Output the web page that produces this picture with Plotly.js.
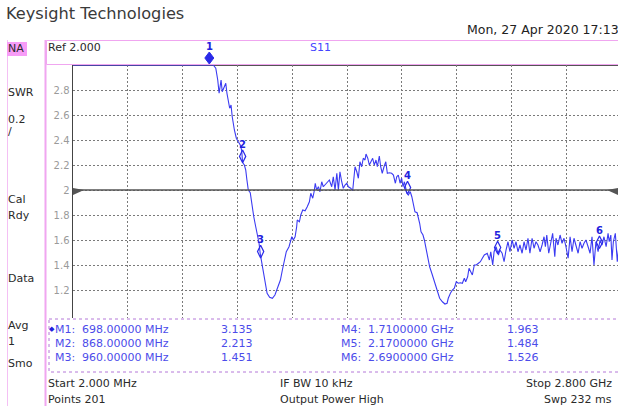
<!DOCTYPE html>
<html><head><meta charset="utf-8">
<script src="https://cdn.plot.ly/plotly-3.0.1.min.js"></script>
<style>html,body{margin:0;padding:0;overflow:hidden;background:#fff;width:618px;height:408px}#chart{width:624px;height:408px}</style>
</head><body><div id="chart"></div>
<script>
// ---- data (read from the screen capture) ----
// values above the top of the display (SWR > 3) are shown clamped at 3.0
const freqMHz = [
  2,150,300,450,600,698,718,731,741,748,
  758,764,775,782,788,795,802,809,815,826,
  836,846,856,863,868,877,884,890,897,907,
  914,925,935,945,952,958,966,974,982,993,
  1006,1020,1033,1047,1061,1071,1081,1091,1105,1119,
  1127,1136,1144,1147,1158,1165,1175,1187,1198,1209,
  1216,1226,1233,1239,1246,1255,1263,1272,1280,1289,
  1301,1311,1323,1331,1340,1349,1357,1365,1374,1382,
  1391,1400,1408,1420,1430,1437,1442,1451,1459,1467,
  1476,1484,1493,1498,1507,1515,1524,1532,1540,1549,
  1556,1566,1573,1581,1590,1599,1607,1617,1629,1638,
  1648,1655,1663,1672,1680,1687,1694,1701,1707,1714,
  1724,1732,1740,1748,1759,1765,1772,1779,1789,1796,
  1803,1810,1816,1823,1834,1844,1854,1864,1874,1888,
  1901,1912,1918,1929,1939,1949,1959,1969,1980,1990,
  2000,2007,2017,2024,2034,2041,2051,2061,2072,2082,
  2092,2102,2117,2128,2135,2145,2152,2162,2174,2182,
  2193,2203,2213,2223,2233,2244,2254,2264,2274,2284,
  2295,2305,2315,2325,2335,2346,2356,2366,2376,2387,
  2397,2407,2414,2421,2431,2441,2451,2462,2468,2478,
  2489,2499,2509,2519,2530,2540,2550,2560,2570,2581,
  2591,2601,2611,2621,2632,2642,2652,2662,2672,2683,
  2693,2703,2713,2724,2734,2740,2748,2754,2761,2771,
  2781,2792,2800];
const swr = [
  3,3,3,3,3,3,3,2.974,2.88,2.774,
  2.88,2.786,2.826,2.854,2.774,2.694,2.654,2.68,2.586,2.48,
  2.414,2.386,2.36,2.32,2.22,2.2,2.16,2.08,2.0,1.978,
  1.894,1.786,1.706,1.626,1.574,1.49,1.414,1.334,1.254,1.174,
  1.142,1.134,1.16,1.214,1.28,1.36,1.44,1.506,1.546,1.626,
  1.6,1.626,1.706,1.76,1.746,1.8,1.84,1.834,1.866,1.906,
  1.974,1.934,1.986,2.054,2.0,2.026,1.986,2.066,2.026,2.04,
  2.066,2.08,2.026,2.106,2.0,2.134,2.0,2.146,2.066,2.014,
  2.04,2.054,2.026,2.014,1.994,2.106,2.186,2.146,2.094,2.226,
  2.186,2.254,2.24,2.288,2.254,2.2,2.226,2.254,2.2,2.24,
  2.186,2.272,2.186,2.134,2.186,2.226,2.134,2.138,2.134,2.12,
  2.054,2.106,2.12,2.054,2.094,2.026,2.066,2.0,1.974,1.96,
  1.986,1.946,1.894,1.826,1.818,1.786,1.734,1.666,1.64,1.6,
  1.546,1.494,1.44,1.386,1.334,1.28,1.24,1.186,1.134,1.106,
  1.088,1.094,1.134,1.174,1.2,1.214,1.266,1.254,1.258,1.254,
  1.294,1.266,1.306,1.374,1.334,1.32,1.4,1.4,1.414,1.426,
  1.454,1.48,1.494,1.44,1.506,1.4,1.506,1.546,1.48,1.52,
  1.494,1.426,1.52,1.586,1.506,1.6,1.534,1.586,1.506,1.56,
  1.494,1.586,1.52,1.614,1.494,1.614,1.534,1.586,1.56,1.506,
  1.56,1.626,1.546,1.64,1.494,1.586,1.654,1.466,1.614,1.56,
  1.64,1.574,1.614,1.546,1.454,1.626,1.506,1.614,1.56,1.494,
  1.586,1.534,1.574,1.6,1.546,1.494,1.626,1.4,1.586,1.506,
  1.6,1.56,1.626,1.546,1.654,1.586,1.64,1.44,1.586,1.654,
  1.426,1.6,1.55];
const markerNames = ['M1','M2','M3','M4','M5','M6'];
const markerFreqMHz = [698, 868, 960, 1710, 2170, 2690];
const markerSWR = [3.135, 2.213, 1.451, 1.963, 1.484, 1.526];
const activeMarker = 0;
const yTickVals = [1.2,1.4,1.6,1.8,2.0,2.2,2.4,2.6,2.8];
const yTickText = ['1.2','1.4','1.6','1.8','2','2.2','2.4','2.6','2.8'];
const leftLabels = ['NA','SWR','0.2','/','Cal','Rdy','Data','Avg','1','Smo'];
const startMHz = 2, stopMHz = 2800, refLevel = 2.0, perDiv = 0.2, nPoints = 201;
const traceName = 'S11';
const vendor = 'Keysight Technologies';
const stamp = 'Mon, 27 Apr 2020 17:13';
const footer = ['IF BW 10 kHz', 'Output Power High', 'Swp 232 ms'];

// ---- geometry ----
const W = 624, H = 408;
const L = 73, R = 621, T = 65, B = 318;
const pw = R - L, ph = B - T;
const yTop = refLevel + 5 * perDiv, yBot0 = refLevel - 5 * perDiv;
const unitsPerPx = (yTop - yBot0) / 250;
const yBot = yBot0 - (B - T - 250) * unitsPerPx;
const X = px => (px - L) / pw;
const Y = py => (B - py) / ph;

const FONT = 'DejaVu Sans';
const BLUE = '#3b3bf2';
const TBLUE = '#4c4cea';
const MBLUE = '#2a2ae8';
const PINK = '#f0a6f0';

function fmtF(f) { return f < 1000 ? f.toFixed(5) + ' MHz' : (f / 1000).toFixed(7) + ' GHz'; }
function fmtStart(f) { return f < 1000 ? f.toFixed(3) + ' MHz' : (f / 1000).toFixed(3) + ' GHz'; }

const ann = [];
function txt(s, x, y, o) {
  o = o || {};
  ann.push({xref:'paper', yref:'paper', x:X(x), y:Y(y), text:s, showarrow:false,
    xanchor:o.xa || 'left', yanchor:'middle', borderpad:0, borderwidth:0,
    font:{family:FONT, size:o.size || 11, color:o.color || '#2a2a2a', weight:o.weight || 'normal'}});
}
txt(vendor, 6, 13, {size:16.2, color:'#3a3a3a'});
txt(stamp, 619, 30, {xa:'right', size:12.5, color:'#222'});
txt('Ref ' + refLevel.toFixed(3), 48, 48);
txt(traceName, 320, 48, {xa:'center', color:'#4444ff'});
const leftY = [49, 92, 119, 131, 199, 215, 278, 325, 341, 363];
leftLabels.forEach((s, i) => txt(s, 7.5, leftY[i]));

// marker table
const rowY = [329, 343, 357];
for (let i = 0; i < 3; i++) {
  const a = i, b = i + 3;
  if (a === activeMarker) txt('\u25C6', 48.5, rowY[i], {size:7, color:'#2222dd'});
  txt(markerNames[a] + ':', 55, rowY[i], {color:TBLUE});
  txt(fmtF(markerFreqMHz[a]), 82, rowY[i], {color:TBLUE});
  txt(markerSWR[a].toFixed(3), 221, rowY[i], {color:TBLUE});
  txt(markerNames[b] + ':', 341, rowY[i], {color:TBLUE});
  txt(fmtF(markerFreqMHz[b]), 368, rowY[i], {color:TBLUE});
  txt(markerSWR[b].toFixed(3), 507, rowY[i], {color:TBLUE});
}
// footer
txt('Start ' + fmtStart(startMHz), 48, 383);
txt('Points ' + nPoints, 48, 399);
txt(footer[0], 280, 383);
txt(footer[1], 280, 399);
txt('Stop ' + fmtStart(stopMHz), 612, 383, {xa:'right'});
txt(footer[2], 612, 399, {xa:'right'});

// marker number labels (data-anchored, clamped to the display top)
const dispY = markerSWR.map(v => Math.min(v, yTop));
markerNames.forEach((m, i) => {
  ann.push({xref:'x', yref:'y', x:markerFreqMHz[i], y:dispY[i], yshift:19, text:m.slice(1),
    showarrow:false, xanchor:'center', yanchor:'middle',
    font:{family:FONT, size:10, color:'#2222dd', weight:'bold'}});
});

const shapes = [
  {type:'line', xref:'paper', yref:'paper', x0:X(7.5), x1:X(7.5), y0:Y(40), y1:Y(406), line:{color:'#f4c0f4', width:1}},
  {type:'line', xref:'paper', yref:'paper', x0:X(45.5), x1:X(45.5), y0:Y(40), y1:Y(406), line:{color:PINK, width:2}},
  {type:'rect', xref:'paper', yref:'paper', x0:X(46.5), x1:X(640), y0:Y(40.5), y1:Y(64.5), line:{color:PINK, width:1}},
  {type:'rect', xref:'paper', yref:'paper', x0:X(7), x1:X(27), y0:Y(42), y1:Y(56), fillcolor:'#f79cf7', line:{width:0}},
  {type:'line', xref:'paper', yref:'paper', x0:X(73), x1:X(640), y0:Y(65.5), y1:Y(65.5), line:{color:'#555', width:1}, layer:'below'},
  {type:'rect', xref:'paper', yref:'paper', x0:X(49), x1:X(640), y0:Y(319), y1:Y(372), line:{color:'#b478d8', width:1, dash:'dot'}},
  {type:'line', xref:'x', yref:'y', x0:startMHz, x1:stopMHz, y0:refLevel, y1:refLevel, line:{color:'#555', width:1.5}},
  {type:'path', xref:'x', yref:'y', xsizemode:'pixel', ysizemode:'pixel', xanchor:startMHz, yanchor:refLevel,
   path:'M0,2L11,0L0,-5Z', fillcolor:'#555', line:{width:0}},
  {type:'path', xref:'x', yref:'y', xsizemode:'pixel', ysizemode:'pixel', xanchor:stopMHz, yanchor:refLevel,
   path:'M-3,2L-14,0L-3,-5Z', fillcolor:'#555', line:{width:0}}
];
// markers whose value is above the display top: diamond pinned to the top edge
const inX = [], inY = [], inSym = [];
markerNames.forEach((m, i) => {
  if (markerSWR[i] >= yTop) {
    shapes.push({type:'path', xref:'x', yref:'paper', xsizemode:'pixel', ysizemode:'pixel',
      xanchor:markerFreqMHz[i], yanchor:1, path:'M0,1L4.5,7L0,13L-4.5,7Z',
      fillcolor: i === activeMarker ? MBLUE : 'rgba(0,0,0,0)', line:{color:MBLUE, width:1}});
  } else {
    inX.push(markerFreqMHz[i]); inY.push(dispY[i] + 7 * unitsPerPx);
    inSym.push(i === activeMarker ? 'diamond-tall' : 'diamond-tall-open');
  }
});

const data = [
  {type:'scatter', mode:'lines', x:freqMHz, y:swr, line:{color:BLUE, width:1.1}, hoverinfo:'skip'},
  {type:'scatter', mode:'markers', x:inX, y:inY, cliponaxis:false,
   marker:{symbol:inSym, size:9, color:MBLUE, line:{color:'#3a3aee', width:1.2}}, hoverinfo:'skip'}
];

const layout = {
  width:W, height:H, margin:{l:L, r:W - R, t:T, b:H - B, pad:0},
  paper_bgcolor:'#fff', plot_bgcolor:'#fff', showlegend:false,
  xaxis:{range:[startMHz, stopMHz], tickmode:'linear', tick0:startMHz, dtick:(stopMHz - startMHz) / 10,
         showticklabels:false, ticks:'', showgrid:true, gridcolor:'#7a7a7a', gridwidth:1, griddash:'2px,2px',
         zeroline:false, showline:false, fixedrange:true},
  yaxis:{range:[yBot, yTop], tickmode:'array', tickvals:yTickVals, ticktext:yTickText, ticks:'',
         tickfont:{family:FONT, size:10, color:'#9a9a9a'}, showgrid:true, gridcolor:'#7a7a7a', gridwidth:1,
         griddash:'2px,2px', zeroline:false, showline:true, linecolor:'#444', linewidth:1.5, fixedrange:true},
  shapes:shapes, annotations:ann
};
Plotly.newPlot('chart', data, layout, {staticPlot:true, displayModeBar:false});
</script></body></html>
